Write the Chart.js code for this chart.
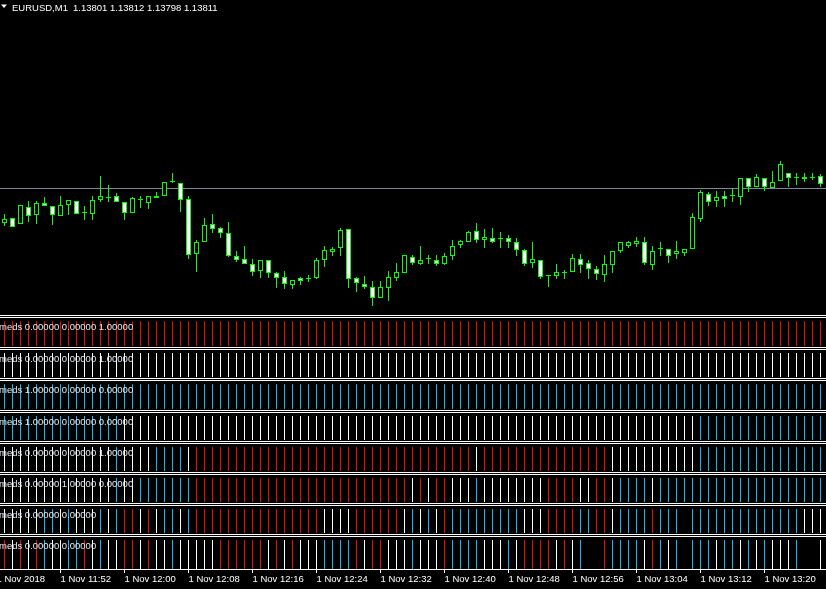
<!DOCTYPE html>
<html>
<head>
<meta charset="utf-8">
<script src="https://cdn.jsdelivr.net/npm/chart.js@4.4.1/dist/chart.umd.min.js"></script>
<style>
  html, body { margin: 0; padding: 0; background: #000; }
  canvas { display: block; background: #000; }
</style>
</head>
<body>
<canvas id="chart" width="826" height="589"></canvas>
<script>
// EURUSD M1, 1 Nov 2018 11:45 -> 13:27, one candle per minute
const symbolName = 'EURUSD,M1';
const titleValues = [1.13801, 1.13812, 1.13798, 1.13811];
const bidPrice = 1.13811;

const openPrices = [
  1.13776,1.13781,1.13775,1.13792,1.13784,1.13796,1.13793,1.13783,1.13794,1.13798,
  1.13786,1.13785,1.13799,1.13802,1.13803,1.13797,1.13786,1.13799,1.13796,1.13801,
  1.13803,1.13817,1.13816,1.13800,1.13745,1.13757,1.13775,1.13771,1.13766,1.13743,
  1.13740,1.13735,1.13728,1.13739,1.13726,1.13722,1.13714,1.13721,1.13720,1.13721,
  1.13739,1.13747,1.13751,1.13770,1.13721,1.13715,1.13712,1.13701,1.13711,1.13721,
  1.13726,1.13742,1.13735,1.13740,1.13739,1.13735,1.13743,1.13754,1.13757,1.13768,
  1.13759,1.13761,1.13760,1.13761,1.13757,1.13749,1.13736,1.13739,1.13723,1.13723,
  1.13726,1.13727,1.13740,1.13736,1.13730,1.13724,1.13734,1.13748,1.13753,1.13755,
  1.13757,1.13734,1.13750,1.13750,1.13745,1.13746,1.13750,1.13780,1.13805,1.13798,
  1.13803,1.13803,1.13802,1.13821,1.13812,1.13821,1.13811,1.13818,1.13826,1.13821,
  1.13820,1.13821,1.13823
];
const highPrices = [
  1.13785,1.13781,1.13794,1.13798,1.13798,1.13802,1.13793,1.13803,1.13799,1.13798,
  1.13793,1.13803,1.13823,1.13814,1.13806,1.13797,1.13802,1.13803,1.13803,1.13807,
  1.13817,1.13826,1.13816,1.13803,1.13759,1.13781,1.13785,1.13772,1.13777,1.13748,
  1.13753,1.13740,1.13739,1.13739,1.13727,1.13728,1.13719,1.13722,1.13724,1.13741,
  1.13753,1.13752,1.13771,1.13770,1.13722,1.13723,1.13718,1.13718,1.13728,1.13736,
  1.13744,1.13744,1.13753,1.13744,1.13744,1.13746,1.13759,1.13759,1.13768,1.13776,
  1.13770,1.13771,1.13767,1.13764,1.13761,1.13750,1.13757,1.13739,1.13724,1.13735,
  1.13729,1.13745,1.13745,1.13739,1.13733,1.13744,1.13748,1.13757,1.13758,1.13762,
  1.13762,1.13753,1.13757,1.13750,1.13758,1.13750,1.13786,1.13809,1.13807,1.13808,
  1.13808,1.13811,1.13821,1.13821,1.13825,1.13821,1.13828,1.13838,1.13826,1.13826,
  1.13826,1.13826,1.13825
];
const lowPrices = [
  1.13773,1.13772,1.13775,1.13777,1.13775,1.13793,1.13774,1.13783,1.13784,1.13785,
  1.13779,1.13779,1.13797,1.13797,1.13797,1.13779,1.13786,1.13791,1.13790,1.13801,
  1.13803,1.13816,1.13787,1.13740,1.13727,1.13757,1.13766,1.13761,1.13742,1.13737,
  1.13735,1.13723,1.13721,1.13721,1.13711,1.13710,1.13710,1.13714,1.13717,1.13720,
  1.13732,1.13743,1.13743,1.13711,1.13707,1.13710,1.13693,1.13701,1.13698,1.13718,
  1.13726,1.13734,1.13734,1.13735,1.13733,1.13734,1.13739,1.13751,1.13757,1.13756,
  1.13751,1.13756,1.13751,1.13751,1.13743,1.13733,1.13731,1.13720,1.13712,1.13720,
  1.13720,1.13727,1.13726,1.13720,1.13719,1.13717,1.13726,1.13746,1.13751,1.13752,
  1.13734,1.13729,1.13743,1.13736,1.13740,1.13743,1.13750,1.13777,1.13793,1.13792,
  1.13792,1.13797,1.13794,1.13807,1.13812,1.13808,1.13811,1.13818,1.13812,1.13814,
  1.13817,1.13819,1.13812
];
const closePrices = [
  1.13780,1.13772,1.13794,1.13783,1.13796,1.13793,1.13784,1.13794,1.13799,1.13785,
  1.13786,1.13799,1.13803,1.13801,1.13797,1.13786,1.13801,1.13799,1.13803,1.13803,
  1.13817,1.13817,1.13799,1.13744,1.13757,1.13774,1.13770,1.13766,1.13743,1.13739,
  1.13735,1.13727,1.13739,1.13726,1.13721,1.13715,1.13719,1.13718,1.13720,1.13739,
  1.13749,1.13750,1.13769,1.13720,1.13716,1.13712,1.13701,1.13712,1.13722,1.13727,
  1.13744,1.13736,1.13739,1.13740,1.13735,1.13743,1.13753,1.13758,1.13767,1.13759,
  1.13762,1.13757,1.13760,1.13757,1.13749,1.13735,1.13740,1.13722,1.13723,1.13727,
  1.13726,1.13741,1.13734,1.13730,1.13725,1.13735,1.13748,1.13757,1.13757,1.13758,
  1.13736,1.13748,1.13750,1.13743,1.13748,1.13750,1.13782,1.13807,1.13797,1.13802,
  1.13800,1.13803,1.13821,1.13812,1.13822,1.13812,1.13817,1.13835,1.13821,1.13821,
  1.13822,1.13821,1.13815
];

// time axis labels (bar index -> text)
const tickBars = [-1, 7, 15, 23, 31, 39, 47, 55, 63, 71, 79, 87, 95];
const tickLabels = ['1 Nov 2018', '1 Nov 11:52', '1 Nov 12:00', '1 Nov 12:08', '1 Nov 12:16',
  '1 Nov 12:24', '1 Nov 12:32', '1 Nov 12:40', '1 Nov 12:48', '1 Nov 12:56',
  '1 Nov 13:04', '1 Nov 13:12', '1 Nov 13:20'];

// indicator sub-windows: R red, W white, B blue, . empty
const row1 = ['RRRRRRRRRR','RRRRRRRRRR','RRRRRRRRRR','RRRRRRRRRR','RRRRRRRRRR','RRRRRRRRRR',
  'RRRRRRRRRR','RRRRRRRRRR','RRRRRRRRRR','RRRRRRRRRR','RRR'].join('');
const row2 = ['WWWWWWWWWW','WWWWWWWWWW','WWWWWWWWWW','WWWWWWWWWW','WWWWWWWWWW','WWWWWWWWWW',
  'WWWWWWWWWW','WWWWWWWWWW','WWWWWWWWWW','WWWWWWWWWW','WWW'].join('');
const row3 = ['BBBBBBBBBB','BBBBBBBBBB','BBBBBBBBBB','BBBBBBBBBB','BBBBBBBBBB','BBBBBBBBBB',
  'BBBBBBBBBB','BBBBBBBBBB','BBBBBBBBBB','BBBBBBBBBB','BBB'].join('');
const row4 = ['BBBBBBBBBB','BBBBBWWWWW','WWWWWWWWWW','WWWWWWWWWW','WWWWWWWWWW','WWWWWWWWWW',
  'WWWWWWWWWW','WWWWWWWWWW','WWWWWWWBBB','BBBBBBBBBB','BBB'].join('');
const row5 = ['WWWWWWWWWW','WWWWBWWWWB','BBBWRRRRRR','RRRRRRRRRR','RRRRRRRRRR','RRRRRRRRRW',
  'RRRRRRRRRR','RRRRRRWWWW','WWWWWWWBBB','BBBBBBBBBB','BBB'].join('');
const row6 = ['WWWWWWWWWW','WWWWBWWBBB','BBBBRRRRRR','RRRRRRRRRR','RRRRRRRRRR','RWRWRRWWWB',
  'WWWWWWWWRR','RRWWRRWBBB','BWBBBBBBBB','BBBBBBBBBB','BBB'].join('');
const row7 = ['WWWWWBBWBW','WWBWBRRWRW','BBWBRRRRRR','RRRRRRRRRR','WWWWRRRRRR','WBWBWRBBBB',
  'BBBBBWWWRR','RRBBRRWBBB','BRBBB.BBBB','BBBBBBBBBB','WWW'].join('');
const row8 = ['RWRWRBWWBB','RWBWWRRWRW','WBWWWWWRRR','RRRWRWRWWW','BBBBRWRRWW','WBWWWRBBBB',
  'WWWBWRRRRW','RWB..RBBBB','WRBWB.BBBW','BBWBWBWWWB','..W'].join('');
const indicatorRows = [row1, row2, row3, row4, row5, row6, row7, row8];
const indicatorTexts = [
  'meds 0.00000 0.00000 1.00000',
  'meds 0.00000 0.00000 1.00000',
  'meds 1.00000 0.00000 0.00000',
  'meds 1.00000 0.00000 0.00000',
  'meds 0.00000 0.00000 1.00000',
  'meds 0.00000 1.00000 0.00000',
  'meds 0.00000 0.00000',
  'meds 0.00000 0.00000'
];

// layout
const mainHeight = 315;
const paneHeights = [32, 31, 32, 31, 31, 31, 31, 35];
const stateColors = { R: '#ff0000', W: '#ffffff', B: '#00bfff' };
const uiFont = '9.5px "Liberation Sans", Arial, sans-serif';

const hidden = {
  display: true,
  ticks: { display: false },
  grid: { display: false, drawTicks: false },
  border: { display: false }
};

const scales = {
  x: {
    type: 'linear',
    position: 'bottom',
    offset: false,
    min: -0.5625,
    max: 102.6875,
    afterBuildTicks: scale => { scale.ticks = tickBars.map(v => ({ value: v })); },
    afterFit: scale => { scale.height = 20; scale.paddingLeft = 0; scale.paddingRight = 0; },
    ticks: {
      color: '#ffffff',
      font: { family: '"Liberation Sans", Arial, sans-serif', size: 9.5 },
      align: 'start',
      autoSkip: false,
      maxRotation: 0,
      padding: 1,
      callback: (value, index) => tickLabels[index]
    },
    grid: { offset: false, drawOnChartArea: false, drawTicks: true, tickLength: 4, color: '#ffffff' },
    border: { display: true, color: '#ffffff' }
  },
  price: Object.assign({}, hidden, {
    type: 'linear', position: 'left', stack: 'panes', stackWeight: mainHeight, weight: 20,
    min: 1.13684, max: 1.13999
  })
};
indicatorRows.forEach((row, r) => {
  scales['r' + r] = Object.assign({}, hidden, {
    type: 'linear', position: 'left', stack: 'panes', stackWeight: paneHeights[r], weight: 10 - r,
    min: r < 7 ? -0.04 : 0, max: r < 7 ? 1.25 : 1.207
  });
});

const bodyDataset = {
  yAxisID: 'price',
  data: openPrices.map((o, i) => ({ x: i, y: [o, closePrices[i]] })),
  backgroundColor: openPrices.map((o, i) => closePrices[i] < o ? '#ffffff' : '#000000'),
  borderColor: '#00ff00',
  borderWidth: 1,
  borderSkipped: false,
  barThickness: 5,
  minBarLength: 1,
  inflateAmount: 0,
  grouped: false,
  order: 1
};
const wickDataset = {
  yAxisID: 'price',
  data: lowPrices.map((l, i) => ({ x: i, y: [l, highPrices[i]] })),
  backgroundColor: '#00ff00',
  borderWidth: 0,
  barThickness: 1,
  inflateAmount: 0,
  grouped: false,
  order: 2
};
const rowDatasets = indicatorRows.map((row, r) => ({
  yAxisID: 'r' + r,
  data: row.split('').map((c, i) => ({ x: i, y: c === '.' ? null : 1 })),
  backgroundColor: row.split('').map(c => stateColors[c] || 'rgba(0,0,0,0)'),
  borderWidth: 0,
  barThickness: 1,
  inflateAmount: 0,
  grouped: false,
  order: 3
}));

const overlay = {
  id: 'overlay',
  beforeDatasetsDraw(chart) {
    const ctx = chart.ctx;
    const y = Math.round(chart.scales.price.getPixelForValue(bidPrice)) + 0.5;
    ctx.save();
    ctx.strokeStyle = '#778899';
    ctx.lineWidth = 1;
    ctx.beginPath();
    ctx.moveTo(0, y);
    ctx.lineTo(chart.width, y);
    ctx.stroke();
    ctx.restore();
  },
  afterDraw(chart) {
    const ctx = chart.ctx;
    ctx.save();
    // double separators above each sub-window
    ctx.strokeStyle = '#ffffff';
    ctx.lineWidth = 1;
    indicatorRows.forEach((row, r) => {
      const top = Math.round(chart.scales['r' + r].top);
      [0, 2].forEach(d => {
        ctx.beginPath();
        ctx.moveTo(0, top + d + 0.5);
        ctx.lineTo(chart.width, top + d + 0.5);
        ctx.stroke();
      });
    });
    // sub-window captions
    ctx.font = uiFont;
    ctx.textBaseline = 'alphabetic';
    ctx.fillStyle = '#e4e8ee';
    indicatorRows.forEach((row, r) => {
      const top = Math.round(chart.scales['r' + r].top);
      ctx.fillText(indicatorTexts[r], -1, top + 15);
    });
    // main window caption
    ctx.fillStyle = '#ffffff';
    ctx.beginPath();
    ctx.moveTo(1, 4.5);
    ctx.lineTo(7, 4.5);
    ctx.lineTo(4, 8);
    ctx.closePath();
    ctx.fill();
    ctx.fillText(symbolName, 12, 11);
    ctx.fillText(titleValues.map(v => v.toFixed(5)).join(' '), 73, 11);
    ctx.restore();
  }
};

new Chart(document.getElementById('chart'), {
  type: 'bar',
  data: { datasets: [bodyDataset, wickDataset, ...rowDatasets] },
  options: {
    responsive: false,
    animation: false,
    devicePixelRatio: 1,
    events: [],
    layout: { padding: 0 },
    plugins: { legend: { display: false }, tooltip: { enabled: false } },
    scales: scales
  },
  plugins: [overlay]
});
</script>
</body>
</html>
